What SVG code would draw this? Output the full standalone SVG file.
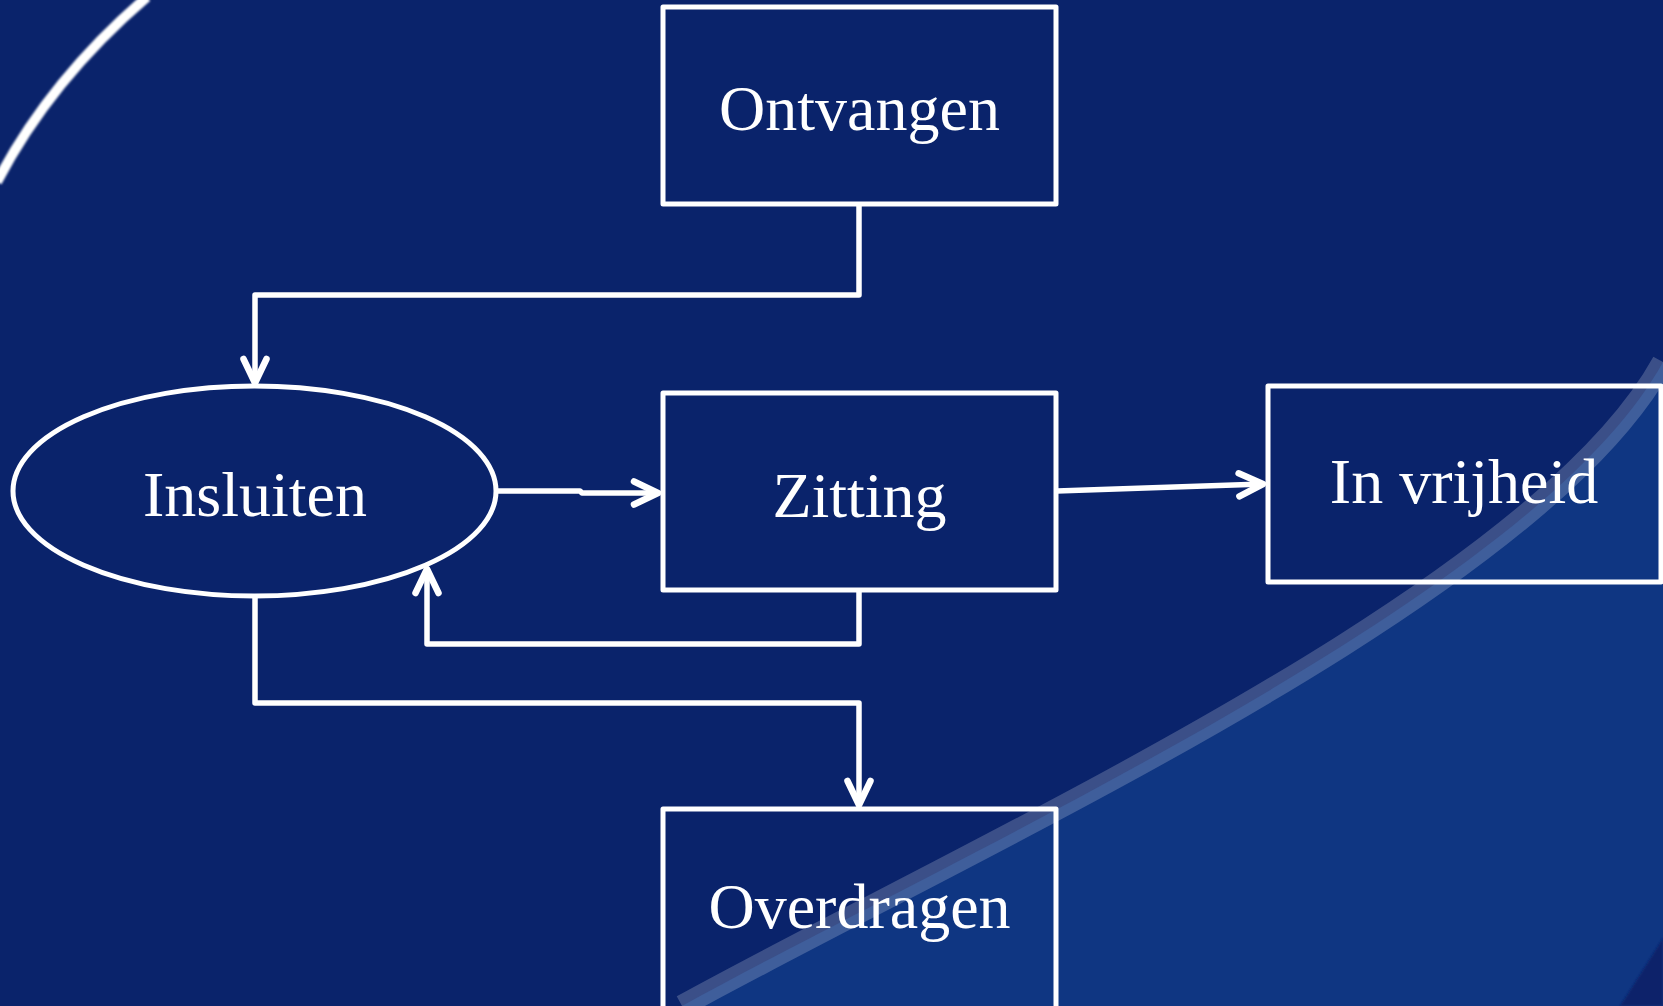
<svg xmlns="http://www.w3.org/2000/svg" width="1663" height="1006" viewBox="0 0 1663 1006">
  <style>
    .node { fill: none; stroke: #ffffff; stroke-width: 5; stroke-linejoin: round; }
    .label { fill: #ffffff; font-family: "Liberation Serif", "Times New Roman", serif; font-size: 64px; text-anchor: middle; }
    .conn { fill: none; stroke: #ffffff; stroke-width: 5.5; stroke-linejoin: round; }
    .arrow { marker-end: url(#chev); }
  </style>
  <defs>
    <marker id="chev" markerUnits="userSpaceOnUse" viewBox="-30 -15 36 30" refX="0" refY="0" markerWidth="36" markerHeight="30" orient="auto" overflow="visible">
      <path d="M -24 -11.5 L 0 0 L -24 11.5" fill="none" stroke="#ffffff" stroke-width="6.5" stroke-linecap="round" stroke-linejoin="round"/>
    </marker>
    <filter id="soft" x="-10%" y="-10%" width="120%" height="120%">
      <feGaussianBlur stdDeviation="0.8"/>
    </filter>
  </defs>

  <!-- background -->
  <g id="background">
    <rect x="0" y="0" width="1663" height="1006" fill="#0a236b"/>
    <path d="M 682 1006 C 975 845, 1535 595, 1663 362 L 1663 1006 Z" fill="#0f3682"/>
    <path d="M 1620 1006 Q 1640 975 1663 938 L 1663 1006 Z" fill="#0a236b" filter="url(#soft)"/>
    <path d="M 682 1006 C 975 845, 1535 595, 1663 362" fill="none" stroke="#ffffff" stroke-opacity="0.2" stroke-width="22"/>
    <path d="M 147 -3 Q 50 80 -3 182" fill="none" stroke="#ffffff" stroke-width="10" filter="url(#soft)"/>
  </g>

  <!-- connectors -->
  <g id="connectors">
    <path class="conn arrow" d="M 859 204 L 859 295 L 255 295 L 255 383"/>
    <path class="conn arrow" d="M 496 491 L 580 491 L 582 493 L 658 493"/>
    <path class="conn arrow" d="M 1057 491 L 1263 484"/>
    <path class="conn arrow" d="M 859 590 L 859 644 L 427 644 L 427 569"/>
    <path class="conn arrow" d="M 255 596 L 255 703 L 859 703 L 859 805"/>
  </g>

  <!-- nodes -->
  <g id="node-ontvangen">
    <rect class="node" x="663" y="7" width="393" height="197"/>
    <text class="label" x="859.5" y="130">Ontvangen</text>
  </g>
  <g id="node-insluiten">
    <ellipse class="node" cx="254.5" cy="491" rx="241.5" ry="105" stroke-width="4.5"/>
    <text class="label" x="255" y="516">Insluiten</text>
  </g>
  <g id="node-zitting">
    <rect class="node" x="663" y="393" width="393" height="197"/>
    <text class="label" x="859.5" y="517">Zitting</text>
  </g>
  <g id="node-invrijheid">
    <rect class="node" x="1268" y="386" width="393" height="196"/>
    <text class="label" x="1464" y="503">In vrijheid</text>
  </g>
  <g id="node-overdragen">
    <rect class="node" x="663" y="809" width="393" height="200"/>
    <text class="label" x="859.5" y="928">Overdragen</text>
  </g>
</svg>
